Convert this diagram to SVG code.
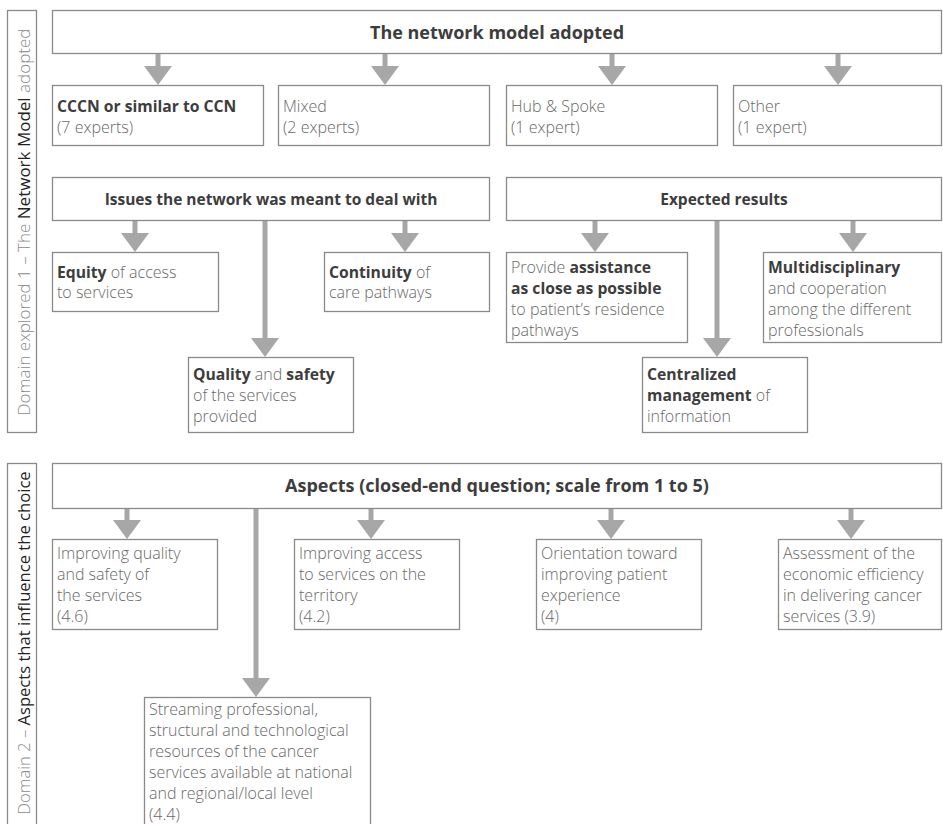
<svg xmlns="http://www.w3.org/2000/svg" width="943" height="824" viewBox="0 0 943 824">
<style>
  .box{fill:#fff;stroke:#8a8a8a;stroke-width:1.3}
  .arr{stroke:#a7a7a7;stroke-width:5;fill:none}
  text{font-family:"Open Sans","Noto Sans","Liberation Sans",sans-serif;fill:#686868;font-size:16px;font-weight:300}
  .b{font-weight:700;fill:#3d3d3d;font-size:15.7px}
  .hd{font-weight:700;fill:#3d3d3d;font-size:15.5px;text-anchor:middle}
  .tt{font-weight:700;fill:#3d3d3d;font-size:18px;text-anchor:middle}
  .side{font-size:17px;text-anchor:middle;fill:#8a8a8a}
  .sideb{font-weight:400;fill:#222}
</style>
<defs>
  <marker id="ah" markerUnits="userSpaceOnUse" markerWidth="19" markerHeight="28" viewBox="0 0 19 28" refX="0" refY="14" orient="auto">
    <path d="M0,0 L19,14 L0,28 Z" fill="#a7a7a7"/>
  </marker>
</defs>

<g id="side1">
  <rect class="box" x="7.5" y="10.5" width="29" height="422"/>
  <text class="side" transform="translate(30,222) rotate(-90)">Domain explored 1 – The <tspan class="sideb">Network Model</tspan> adopted</text>
</g>
<g id="side2">
  <rect class="box" x="7.5" y="463.5" width="29" height="370"/>
  <text class="side" style="font-size:16.6px" transform="translate(30,643) rotate(-90)">Domain 2 – <tspan class="sideb">Aspects that influence the choice</tspan></text>
</g>

<g id="connectors">
  <line class="arr" x1="158" y1="53" x2="158" y2="66" marker-end="url(#ah)"/>
  <line class="arr" x1="385" y1="53" x2="385" y2="66" marker-end="url(#ah)"/>
  <line class="arr" x1="612" y1="53" x2="612" y2="66" marker-end="url(#ah)"/>
  <line class="arr" x1="838" y1="53" x2="838" y2="66" marker-end="url(#ah)"/>

  <line class="arr" x1="135" y1="220" x2="135" y2="233" marker-end="url(#ah)"/>
  <line class="arr" x1="265" y1="220" x2="265" y2="338" marker-end="url(#ah)"/>
  <line class="arr" x1="405" y1="220" x2="405" y2="233" marker-end="url(#ah)"/>

  <line class="arr" x1="595" y1="220" x2="595" y2="233" marker-end="url(#ah)"/>
  <line class="arr" x1="717" y1="220" x2="717" y2="338" marker-end="url(#ah)"/>
  <line class="arr" x1="853" y1="220" x2="853" y2="233" marker-end="url(#ah)"/>

  <line class="arr" x1="127" y1="508" x2="127" y2="520" marker-end="url(#ah)"/>
  <line class="arr" x1="256" y1="508" x2="256" y2="678" marker-end="url(#ah)"/>
  <line class="arr" x1="371" y1="508" x2="371" y2="520" marker-end="url(#ah)"/>
  <line class="arr" x1="611" y1="508" x2="611" y2="520" marker-end="url(#ah)"/>
  <line class="arr" x1="851" y1="508" x2="851" y2="520" marker-end="url(#ah)"/>
</g>

<g id="model">
  <rect class="box" x="52.5" y="10.5" width="889" height="43"/>
  <text class="tt" x="497" y="38.5">The network model adopted</text>
</g>
<g id="cccn">
  <rect class="box" x="52.5" y="85.5" width="211" height="60"/>
  <text x="57" y="112"><tspan class="b">CCCN or similar to CCN</tspan></text>
  <text x="57" y="133">(7 experts)</text>
</g>
<g id="mixed">
  <rect class="box" x="278.5" y="85.5" width="211" height="60"/>
  <text x="283" y="112">Mixed</text>
  <text x="283" y="133">(2 experts)</text>
</g>
<g id="hub">
  <rect class="box" x="506.5" y="85.5" width="211" height="60"/>
  <text x="511" y="112">Hub &amp; Spoke</text>
  <text x="511" y="133">(1 expert)</text>
</g>
<g id="other">
  <rect class="box" x="733.5" y="85.5" width="208" height="60"/>
  <text x="738" y="112">Other</text>
  <text x="738" y="133">(1 expert)</text>
</g>

<g id="issues">
  <rect class="box" x="52.5" y="177.5" width="437" height="43"/>
  <text class="hd" x="271" y="205">Issues the network was meant to deal with</text>
</g>
<g id="expected">
  <rect class="box" x="506.5" y="177.5" width="435" height="43"/>
  <text class="hd" x="724" y="205">Expected results</text>
</g>

<g id="equity">
  <rect class="box" x="52.5" y="252.5" width="166" height="59"/>
  <text x="57" y="278"><tspan class="b">Equity</tspan> of access</text>
  <text x="57" y="298">to services</text>
</g>
<g id="continuity">
  <rect class="box" x="324.5" y="252.5" width="165" height="59"/>
  <text x="329" y="278"><tspan class="b">Continuity</tspan> of</text>
  <text x="329" y="298">care pathways</text>
</g>
<g id="quality">
  <rect class="box" x="188.5" y="357.5" width="165" height="75"/>
  <text x="193" y="380"><tspan class="b">Quality</tspan> and <tspan class="b">safety</tspan></text>
  <text x="193" y="401">of the services</text>
  <text x="193" y="422">provided</text>
</g>
<g id="provide">
  <rect class="box" x="506.5" y="252.5" width="181" height="90"/>
  <text x="511" y="273">Provide <tspan class="b">assistance</tspan></text>
  <text x="511" y="294"><tspan class="b">as close as possible</tspan></text>
  <text x="511" y="315">to patient’s residence</text>
  <text x="511" y="336">pathways</text>
</g>
<g id="multi">
  <rect class="box" x="763.5" y="252.5" width="178" height="90"/>
  <text x="768" y="273"><tspan class="b">Multidisciplinary</tspan></text>
  <text x="768" y="294">and cooperation</text>
  <text x="768" y="315">among the different</text>
  <text x="768" y="336">professionals</text>
</g>
<g id="centralized">
  <rect class="box" x="642.5" y="357.5" width="165" height="75"/>
  <text x="647" y="380"><tspan class="b">Centralized</tspan></text>
  <text x="647" y="401"><tspan class="b">management</tspan> of</text>
  <text x="647" y="422">information</text>
</g>

<g id="aspects">
  <rect class="box" x="52.5" y="463.5" width="889" height="45"/>
  <text class="hd" style="font-size:18px" x="497" y="492">Aspects (closed-end question; scale from 1 to 5)</text>
</g>
<g id="improvingQuality">
  <rect class="box" x="52.5" y="539.5" width="165" height="90"/>
  <text x="57" y="559">Improving quality</text>
  <text x="57" y="580">and safety of</text>
  <text x="57" y="601">the services</text>
  <text x="57" y="622">(4.6)</text>
</g>
<g id="improvingAccess">
  <rect class="box" x="294.5" y="539.5" width="165" height="90"/>
  <text x="299" y="559">Improving access</text>
  <text x="299" y="580">to services on the</text>
  <text x="299" y="601">territory</text>
  <text x="299" y="622">(4.2)</text>
</g>
<g id="orientation">
  <rect class="box" x="536.5" y="539.5" width="165" height="90"/>
  <text x="541" y="559">Orientation toward</text>
  <text x="541" y="580">improving patient</text>
  <text x="541" y="601">experience</text>
  <text x="541" y="622">(4)</text>
</g>
<g id="assessment">
  <rect class="box" x="778.5" y="539.5" width="163" height="90"/>
  <text x="783" y="559">Assessment of the</text>
  <text x="783" y="580">economic efficiency</text>
  <text x="783" y="601">in delivering cancer</text>
  <text x="783" y="622">services (3.9)</text>
</g>
<g id="streaming">
  <rect class="box" x="144.5" y="697.5" width="226" height="140"/>
  <text x="149" y="715">Streaming professional,</text>
  <text x="149" y="736">structural and technological</text>
  <text x="149" y="757">resources of the cancer</text>
  <text x="149" y="778">services available at national</text>
  <text x="149" y="799">and regional/local level</text>
  <text x="149" y="820">(4.4)</text>
</g>
</svg>
